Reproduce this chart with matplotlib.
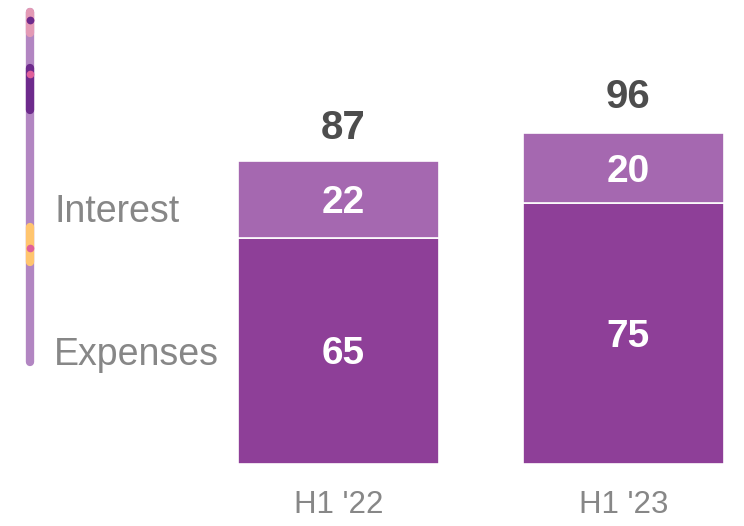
import numpy as np
import matplotlib
matplotlib.use("Agg")
import matplotlib.pyplot as plt

plt.rcParams['font.family'] = ['Liberation Sans', 'DejaVu Sans']

#data
periods = ["H1 '22", "H1 '23"]
expenses = [65, 75]
interest = [22, 20]
totals = [87, 96]

c_exp = "#8e3f98"
c_int = "#a568b0"
c_gray = "#878787"
c_dark = "#4d4d4d"

fig = plt.figure(figsize=(7.44, 5.26), dpi=100)

#main axes, bottom at pixel 464, 3.48 px per unit
ax = fig.add_axes([0, 62/526, 1, 464/526])
x = np.arange(len(periods))
w = 201/285
ax.bar(x, expenses, w, color=c_exp, edgecolor="white", linewidth=1.2)
ax.bar(x, interest, w, bottom=expenses, color=c_int, edgecolor="white", linewidth=1.2)
ax.set_xlim(-338.5/285, (744-338.5)/285)
ax.set_ylim(0, 464/3.48)

for i in range(len(periods)):
    ax.annotate(str(expenses[i]), (x[i], expenses[i]/2), xytext=(3.5, -2.5), textcoords="offset points",
                ha="center", va="center", color="white", fontsize=28, fontweight="bold")
    ax.annotate(str(interest[i]), (x[i], expenses[i] + interest[i]/2), xytext=(3.5, -2.5),
                textcoords="offset points", ha="center", va="center",
                color="white", fontsize=28, fontweight="bold")
    ax.annotate(str(totals[i]), (x[i], totals[i]), xytext=(3.5, 16), textcoords="offset points",
                ha="center", va="baseline", color=c_dark, fontsize=29, fontweight="bold")

ax.set_xticks(x)
ax.set_xticklabels(periods, color=c_gray, fontsize=22.5)
ax.tick_params(axis="x", length=0, pad=19)
ax.set_yticks([])
for s in ax.spines.values():
    s.set_visible(False)
ax.patch.set_alpha(0)

#left decoration + labels, in pixel coords
deco = fig.add_axes([0, 0, 1, 1], zorder=-1)
deco.set_xlim(0, 744)
deco.set_ylim(526, 0)
deco.axis("off")
deco.plot([30, 30], [12, 362], color="#b286c2", lw=6, solid_capstyle="round")
deco.plot([30, 30], [12, 33], color="#e39ab5", lw=6, solid_capstyle="round")
deco.plot([30, 30], [68, 110], color="#6d2a8c", lw=6, solid_capstyle="round")
deco.plot([30, 30], [227, 262], color="#ffc56e", lw=6, solid_capstyle="round")
deco.plot([30, 30, 30], [20, 74, 248], "o", ms=5.5, mec="none",
          color="#e0609a")
deco.plot([30], [20], "o", ms=5.5, mec="none", color="#6d2a8c")
deco.text(54, 212, "Interest", color=c_gray, fontsize=27, va="center", ha="left")
deco.text(54, 355, "Expenses", color=c_gray, fontsize=27, va="center", ha="left")

fig.savefig("out.png", dpi=100)
